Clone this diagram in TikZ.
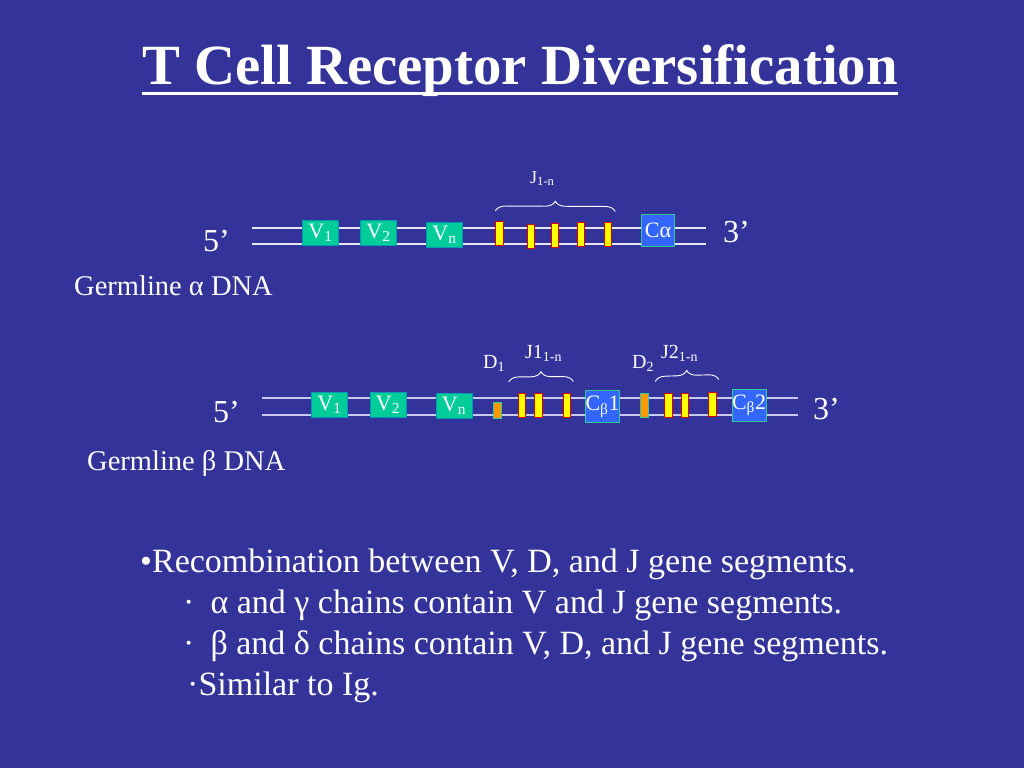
\documentclass[tikz,border=0pt]{standalone}
\usepackage{fontspec}
\setmainfont{Liberation Serif}
\usetikzlibrary{positioning,decorations.pathreplacing}

\definecolor{slide}{HTML}{333399}
\definecolor{vgreen}{HTML}{00CC99}
\definecolor{cblue}{HTML}{3366FF}
\definecolor{segedge}{HTML}{33CC99}
\definecolor{jyellow}{HTML}{FFFF00}
\definecolor{jred}{HTML}{DD0000}
\definecolor{dorange}{HTML}{FF9900}
\definecolor{dnaA}{HTML}{E8E8F4}
\definecolor{dnaB}{HTML}{C8C8F0}

\newcommand{\fsz}[1]{\fontsize{#1}{#1}\selectfont}

\tikzset{
  vseg/.style={fill=vgreen, draw=vgreen!75!blue, line width=0.8pt, inner sep=0,
               minimum width=36pt, minimum height=25pt, font=\fsz{22}},
  jseg/.style={fill=jyellow, draw=jred, line width=1pt, inner sep=0,
               minimum width=7.5pt, minimum height=24pt},
  dseg/.style={fill=dorange, draw=segedge, line width=0.8pt, inner sep=0,
               minimum width=8pt, minimum height=24pt},
  cseg/.style={fill=cblue, draw=segedge, line width=1pt, inner sep=0,
               minimum width=33pt, minimum height=32pt, font=\fsz{22}},
  strandA/.style={draw=dnaA, line width=1.5pt},
  strandB/.style={draw=dnaB, line width=1.5pt},
  jbrace/.style={draw=white, line width=0.9pt, decorate,
                 decoration={brace, amplitude=10pt}},
  endlbl/.style={anchor=base west, inner sep=0, font=\fsz{32}},
  seglbl/.style={anchor=base west, inner sep=0, font=\fsz{20}},
  dnalbl/.style={anchor=base west, inner sep=0, font=\fsz{28.5}},
  bullet/.style={anchor=base west, inner sep=0, font=\fsz{34}}
}

\begin{document}
\begin{tikzpicture}[x=1pt, y=-1pt, every node/.append style={text=white}]
  \fill[slide] (0,0) rectangle (1024,768);

  \node[anchor=base, inner sep=0, font=\bfseries\fsz{56.8}] (title) at (520,84)
       {T Cell Receptor Diversification};
  \draw[white, line width=3pt] ([yshift=-9pt]title.base west) -- ([yshift=-9pt]title.base east);

  \coordinate (a5t) at (252,228);  \coordinate (a3t) at (706,228);
  \coordinate (a5b) at (252,244);  \coordinate (a3b) at (706,244);
  \path (a5t) edge[strandA] (a3t)
        (a5b) edge[strandA] (a3b);

  \node[vseg] (aV1) at (320.5,233)   {V\textsubscript{1}};
  \node[vseg] (aV2) at (378.5,233)   {V\textsubscript{2}};
  \node[vseg] (aVn) at (444.5,234.5) {V\textsubscript{n}};
  \node[jseg] (aJ1) at (499.5,233.5) {};
  \node[jseg] (aJ2) at (531,236)     {};
  \node[jseg] (aJ3) at (555,235)     {};
  \node[jseg] (aJ4) at (581,234.5)   {};
  \node[jseg] (aJ5) at (608,234)     {};
  \node[cseg] (aC)  at (658,230.5)   {Cα};

  \draw[jbrace] ([yshift=10pt]aJ1.north west) -- ([shift={(3pt,10pt)}]aJ5.north east);
  \node[seglbl, font=\fsz{18}] (aJlbl) at (530,183) {J\textsubscript{1-n}};

  \node[endlbl] (a5)   at (203,251) {5’};
  \node[endlbl] (a3)   at (723,242) {3’};
  \node[dnalbl] (aDNA) at (74,295)  {Germline α DNA};

  \coordinate (b5t) at (262,398);  \coordinate (b3t) at (798,398);
  \coordinate (b5b) at (262,415);  \coordinate (b3b) at (798,415);
  \path (b5t) edge[strandB] (b3t)
        (b5b) edge[strandB] (b3b);

  \node[vseg] (bV1) at (329.5,404.5) {V\textsubscript{1}};
  \node[vseg] (bV2) at (388,404.5)   {V\textsubscript{2}};
  \node[vseg] (bVn) at (454,405.5)   {V\textsubscript{n}};
  \node[dseg, minimum height=16pt] (bD1) at (497.5,410.5) {};
  \node[jseg] (bJ1) at (522,405.5)   {};
  \node[jseg] (bJ2) at (538.5,405.5) {};
  \node[jseg] (bJ3) at (567,405)     {};
  \node[cseg] (bC1) at (602.5,406.5) {C\textsubscript{β}1};
  \node[dseg] (bD2) at (644.5,405.5) {};
  \node[jseg] (bJ4) at (668.5,405)   {};
  \node[jseg] (bJ5) at (685,405)     {};
  \node[jseg] (bJ6) at (712.5,404)   {};
  \node[cseg] (bC2) at (749,405.5)   {C\textsubscript{β}2};

  \draw[jbrace] ([shift={(-9pt,11pt)}]bJ1.north west) -- ([shift={(2pt,11pt)}]bJ3.north east);
  \draw[jbrace] ([shift={(-9pt,11pt)}]bJ4.north west) -- ([shift={(2pt,12pt)}]bJ6.north east);
  \node[seglbl] (bD1lbl) at (483,368) {D\textsubscript{1}};
  \node[seglbl] (bJ1lbl) at (525,358) {J1\textsubscript{1-n}};
  \node[seglbl] (bD2lbl) at (632,368) {D\textsubscript{2}};
  \node[seglbl] (bJ2lbl) at (661,358) {J2\textsubscript{1-n}};

  \node[endlbl] (b5)   at (213,422) {5’};
  \node[endlbl] (b3)   at (813,419) {3’};
  \node[dnalbl] (bDNA) at (87,470)  {Germline β DNA};

  \node[bullet] (line1) at (140,572) {•Recombination between V, D, and J gene segments.};
  \node[bullet] (line2) at (183,613) {·\hspace{16pt}α and γ chains contain V and J gene segments.};
  \node[bullet] (line3) at (183,654) {·\hspace{16pt}β and δ chains contain V, D, and J gene segments.};
  \node[bullet] (line4) at (187,695) {·Similar to Ig.};
\end{tikzpicture}
\end{document}
